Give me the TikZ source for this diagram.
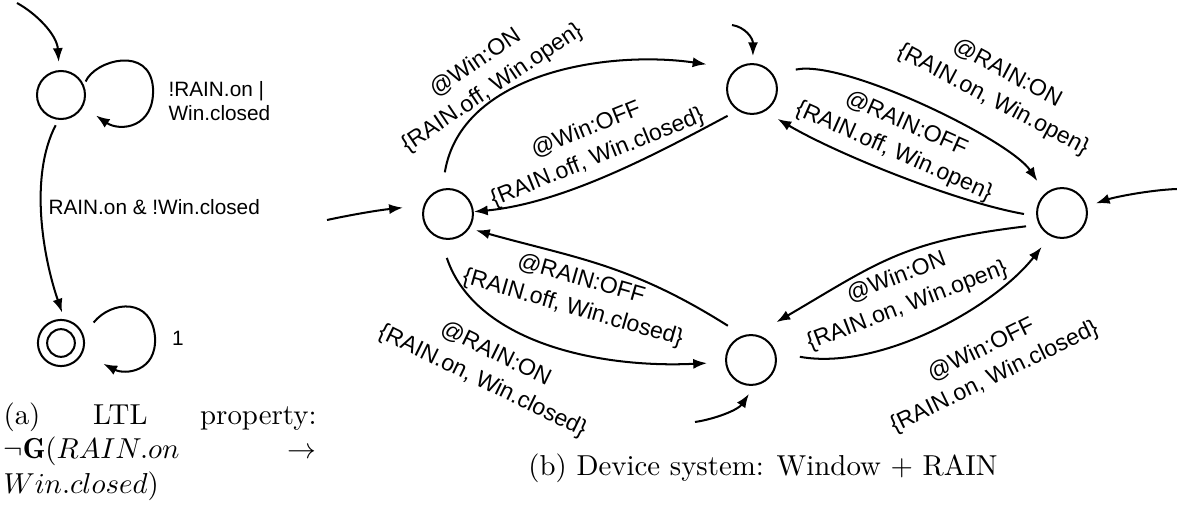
\documentclass[tikz,border=0pt]{standalone}
\usepackage{fontspec}
\newfontfamily\lsans{Liberation Sans}
\usetikzlibrary{arrows.meta}

\tikzset{
  st/.style={circle, draw, line width=0.7pt, inner sep=0pt, minimum size=17.3pt},
  arr/.style={line width=0.7pt, -{Latex[length=4.8pt,width=3.5pt]}},
  lbl/.style={font=\lsans\fontsize{8}{10.4}\selectfont, align=center, inner sep=0pt},
  lbla/.style={font=\lsans\fontsize{7.2}{8.2}\selectfont, inner sep=0pt},
}

\begin{document}
\begin{tikzpicture}[x=0.3466pt, y=-0.3466pt]
\useasboundingbox (0,0) rectangle (1177,505);

% ---------- (a) property automaton ----------
\node[st, minimum size=16.64pt] (q0) at (61,95) {};
\node[st, minimum size=16.0pt] (acc) at (61,343) {};
\node[circle, draw, line width=0.7pt, inner sep=0pt, minimum size=9.6pt] (accin) at (acc) {};
\coordinate (q0in) at (17,3);

\draw[arr, shorten >=2.8pt] (q0in) .. controls (37,14) and (57,35) .. (q0.94);
\draw[arr, shorten <=1.4pt, shorten >=5.4pt] (q0.23) .. controls (95,60) and (150,45) .. (153,88)
      .. controls (155,128) and (120,132) .. (q0.-28.5);
\draw[arr, shorten <=2.1pt, shorten >=2.4pt] (q0.264) .. controls (29,177) and (43,257) .. (acc.82);
\draw[arr, shorten <=5.5pt, shorten >=8pt] (acc.20) .. controls (112,300) and (152,298) .. (155,337)
      .. controls (157,372) and (125,375) .. (acc.-25);

\node[lbla, anchor=west, align=left] (lq0) at (168,101) {!RAIN.on |\\Win.closed};
\node[lbla, anchor=base west] (lt) at (48,215) {RAIN.on \& !Win.closed};
\node[lbla, anchor=base] (lacc) at (178,346) {1};

\node[anchor=base west, inner sep=0pt] (capa) at (3,424)
  {\parbox[t]{108.5pt}{\tolerance=10000 \hbadness=10000
   \hyphenpenalty=10000 \exhyphenpenalty=10000
   (a) LTL property: $\neg\mathbf{G}(RAIN.on \rightarrow Win.closed)$}};

% ---------- (b) device system ----------
\node[st] (L) at (448,214) {};
\node[st] (T) at (752,89) {};
\node[st] (R) at (1062,213) {};
\node[st] (B) at (751,360) {};
\coordinate (Lin) at (327,220);
\coordinate (Tin) at (732,25);
\coordinate (Rin) at (1177,189);
\coordinate (Bin) at (695,422);

% initial arrows
\draw[arr, shorten >=7.14pt] (Lin) .. controls (355,214) and (380,210) .. (L.161);
\draw[arr, shorten >=2.4pt] (Tin) .. controls (745,27) and (753,38) .. (T.88);
\draw[arr, shorten >=3.19pt] (Rin) .. controls (1150,190) and (1115,197) .. (R.15);
\draw[arr, shorten >=3.43pt] (Bin) .. controls (715,419) and (738,410) .. (B.278);

% transitions
\draw[arr, shorten <=5.75pt, shorten >=10.33pt] (L.103) .. controls (461,73) and (607,50) .. (T.128);
\draw[arr, shorten <=3.9pt] (T.236) .. controls (658,153) and (565,203) .. (L.5);
\draw[arr, shorten <=7.9pt, shorten >=4.96pt] (T.34) .. controls (844,59) and (1010,140) .. (R.130);
\draw[arr, shorten <=4.3pt, shorten >=5.03pt] (R.187) .. controls (956,202) and (837,154) .. (T.300);
\draw[arr, shorten <=4.47pt, shorten >=8.39pt] (R.207) .. controls (903,241) and (879,262) .. (B.80);
\draw[arr, shorten <=8.47pt, shorten >=4.77pt] (B.17) .. controls (878,371) and (993,309) .. (R.243);
\draw[arr, shorten <=6.2pt, shorten >=2.29pt] (B.108) .. controls (630,264) and (575,258) .. (L.326);
\draw[arr, shorten <=6.97pt, shorten >=6.27pt] (L.253) .. controls (475,342) and (598,368.5) .. (B.185);

% transition labels
\node[lbl, rotate=34]  (l1) at (484,76)  {@Win:ON\\\{RAIN.off, Win.open\}};
\node[lbl, rotate=22]  (l2) at (592,144) {@Win:OFF\\\{RAIN.off, Win.closed\}};
\node[lbl, rotate=-28] (l3) at (1000,87) {@RAIN:ON\\\{RAIN.on, Win.open\}};
\node[lbl, rotate=-24] (l4) at (900,138) {@RAIN:OFF\\\{RAIN.off, Win.open\}};
\node[lbl, rotate=21]  (l5) at (902,292) {@Win:ON\\\{RAIN.on, Win.open\}};
\node[lbl, rotate=26]  (l6) at (988,364) {@Win:OFF\\\{RAIN.on, Win.closed\}};
\node[lbl, rotate=-16] (l7) at (577,294) {@RAIN:OFF\\\{RAIN.off, Win.closed\}};
\node[lbl, rotate=-26] (l8) at (489,368) {@RAIN:ON\\\{RAIN.on, Win.closed\}};

\node[anchor=base, inner sep=0pt] (capb) at (763,475) {(b) Device system: Window + RAIN};
\end{tikzpicture}
\end{document}
